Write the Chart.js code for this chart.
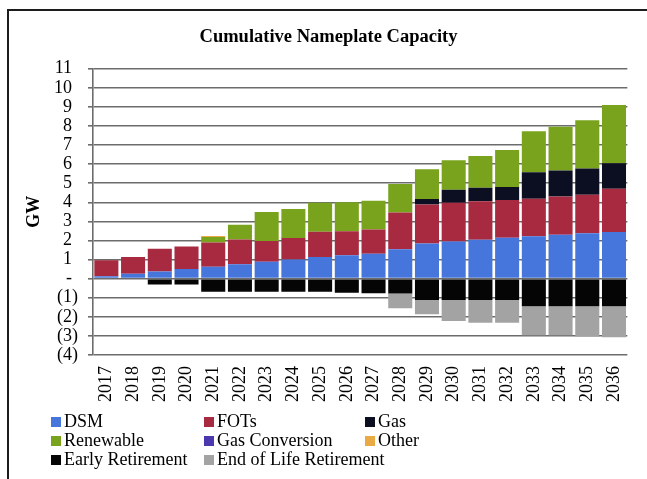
<!DOCTYPE html>
<html>
<head>
<meta charset="utf-8">
<script src="https://cdn.jsdelivr.net/npm/chart.js@4.4.1/dist/chart.umd.min.js"></script>
<style>
  html, body { margin: 0; padding: 0; background: #fff; overflow: hidden; }
  #wrap { position: relative; width: 647px; height: 479px; overflow: hidden; }
  #frame { position: absolute; left: 7px; top: 9px; width: 700px; height: 600px; border: 2px solid #1c1c1c; box-sizing: border-box; }
  #box { position: absolute; left: 0; top: 0; width: 647px; height: 479px; }
  #legend { position: absolute; left: 51px; top: 412px; display: grid;
            grid-template-columns: 153px 161px 200px; grid-auto-rows: 19px;
            font-family: "Liberation Serif", "Times New Roman", serif; font-size: 18px; color: #000; }
  #legend div { display: flex; align-items: center; white-space: nowrap; }
  #legend span.sw { display: inline-block; flex: 0 0 10px; width: 10px; height: 10px; margin-right: 3px; }
</style>
</head>
<body>
<div id="wrap">
  <div id="frame"></div>
  <div id="box"><canvas id="cap"></canvas></div>
  <div id="legend"></div>
</div>
<script>
// values, GW
var years = ['2017','2018','2019','2020','2021','2022','2023','2024','2025','2026',
             '2027','2028','2029','2030','2031','2032','2033','2034','2035','2036'];
var dsm =       [0.12,0.26,0.38,0.51,0.63,0.76,0.89,1.01,1.13,1.22,1.31,1.54,1.84,1.95,2.04,2.14,2.22,2.30,2.38,2.44];
var fots =      [0.84,0.87,1.19,1.18,1.27,1.29,1.08,1.12,1.33,1.27,1.26,1.92,2.05,2.03,2.01,1.98,1.97,2.01,2.01,2.27];
var gas =       [0,0,0,0,0,0,0,0,0,0,0,0,0.28,0.68,0.71,0.68,1.38,1.35,1.38,1.34];
var renewable = [0,0,0,0,0.28,0.77,1.52,1.52,1.52,1.51,1.51,1.50,1.56,1.54,1.66,1.94,2.15,2.30,2.53,3.05];
var gasConv =   [0,0,0,0,0,0,0,0,0,0,0,0,0,0,0,0,0,0,0,0];
var other =     [0,0,0,0,0.05,0,0,0,0,0,0,0,0,0,0,0,0,0,0,0];
var earlyRet =  [0,0,-0.30,-0.30,-0.68,-0.68,-0.68,-0.68,-0.68,-0.74,-0.76,-0.78,-1.12,-1.12,-1.12,-1.12,-1.45,-1.45,-1.45,-1.45];
var endOfLife = [0,0,0,0,0,0,0,0,0,0,0,-0.77,-0.75,-1.10,-1.19,-1.19,-1.51,-1.51,-1.58,-1.62];

var serif = '"Liberation Serif", "Times New Roman", serif';
var gridCol = '#6c6c6c';

function ds(label, data, color) {
  return { label: label, data: data, backgroundColor: color, borderWidth: 0, stack: 'cap' };
}

var ctx = document.getElementById('cap').getContext('2d');
var chart = new Chart(ctx, {
  type: 'bar',
  data: {
    labels: years,
    datasets: [
      ds('DSM', dsm, '#4676DB'),
      ds('FOTs', fots, '#A82A40'),
      ds('Gas', gas, '#0C0E22'),
      ds('Renewable', renewable, '#79A31C'),
      ds('Gas Conversion', gasConv, '#4B37AE'),
      ds('Other', other, '#E9AA45'),
      ds('Early Retirement', earlyRet, '#050505'),
      ds('End of Life Retirement', endOfLife, '#A3A3A3')
    ]
  },
  options: {
    responsive: true,
    maintainAspectRatio: false,
    animation: false,
    layout: { padding: { left: 26, right: 16, top: 0, bottom: 0 } },
    datasets: { bar: { categoryPercentage: 1, barPercentage: 0.9 } },
    plugins: {
      legend: { display: false },
      tooltip: { enabled: false },
      title: {
        display: true,
        text: 'Cumulative Nameplate Capacity',
        color: '#000',
        font: { family: serif, size: 18.5, weight: 'bold' },
        padding: { top: 26, bottom: 20.5 }
      }
    },
    scales: {
      x: {
        stacked: true,
        grid: { display: false, drawTicks: false },
        border: { display: false },
        ticks: { color: '#000', font: { family: serif, size: 18 }, minRotation: 90, maxRotation: 90, padding: 11, autoSkip: false },
        afterFit: function (s) { s.height = 124; }
      },
      y: {
        stacked: true,
        min: -4,
        max: 11,
        grid: { color: gridCol, lineWidth: 1.6, tickLength: 5, tickColor: gridCol },
        border: { display: true, color: gridCol, width: 1.6 },
        ticks: {
          stepSize: 1,
          autoSkip: false,
          color: '#000',
          font: { family: serif, size: 18 },
          padding: 10,
          callback: function (v) {
            if (v > 0) return v + '\u2006\u2006';
            if (v === 0) return '-\u2006\u2006';
            return '(' + (-v) + ')';
          }
        },
        title: {
          display: true,
          text: 'GW',
          color: '#000',
          font: { family: serif, size: 18, weight: 'bold' },
          padding: { top: -2, bottom: 0 }
        },
        afterFit: function (s) { s.width = 67; }
      }
    }
  }
});

// legend in three columns, like the original
var leg = document.getElementById('legend');
chart.data.datasets.forEach(function (d) {
  var item = document.createElement('div');
  var sw = document.createElement('span');
  sw.className = 'sw';
  sw.style.background = d.backgroundColor;
  item.appendChild(sw);
  item.appendChild(document.createTextNode(d.label));
  leg.appendChild(item);
});
</script>
</body>
</html>
